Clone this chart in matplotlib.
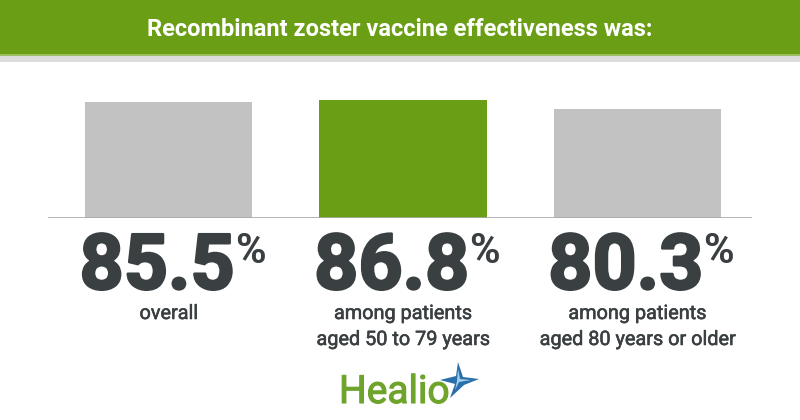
import matplotlib.pyplot as plt
import matplotlib.patheffects as pe
from matplotlib.patches import Rectangle, Polygon

# 数据
labels_num = ['85.5', '86.8', '80.3']
values = [85.5, 86.8, 80.3]
captions = [['overall'],
            ['among patients', 'aged 50 to 79 years'],
            ['among patients', 'aged 80 years or older']]
bar_colors = ['#c2c2c2', '#6a9f15', '#c2c2c2']
title = 'Recombinant zoster vaccine effectiveness was:'

green = '#6a9f15'
dark = '#3a3f41'

plt.rcParams['font.family'] = ['Roboto', 'DejaVu Sans']

W, H = 800, 420
fig = plt.figure(figsize=(W / 100, H / 100), dpi=100)
fig.patch.set_facecolor('white')

# 背景层 (像素坐标)
bg = fig.add_axes([0, 0, 1, 1])
bg.set_xlim(0, W)
bg.set_ylim(H, 0)
bg.axis('off')
bg.add_patch(Rectangle((0, 0), W, 54, color=green, lw=0))
bg.add_patch(Rectangle((0, 54), W, 2, color='#9cc060', lw=0))
bg.add_patch(Rectangle((0, 56), W, 6, color='#dcdcdc', lw=0))
bg.text(W / 2, 29, title, color='white', fontsize=17, fontweight='bold',
        ha='center', va='center')

# Healio logo
bg.text(339, 403, 'Healio', color='#6fa42c', fontsize=28, ha='left', va='baseline',
        path_effects=[pe.withStroke(linewidth=0.8, foreground='#6fa42c')])
star_out = [(458, 362), (463, 377), (479, 379), (464, 385), (450, 398), (455, 384), (440, 380), (456, 376)]
bg.add_patch(Polygon(star_out, closed=True, color='#2a6fa8', lw=0))
bg.add_patch(Polygon([(458, 369), (460, 379), (471, 380), (459, 382), (455, 390), (457, 381)],
                     closed=True, color='#9fd0ee', lw=0))

# 柱状图
ax = fig.add_axes([48 / W, (H - 218) / H, 704 / W, 135.7 / H])
x = range(len(values))
ax.bar(x, values, width=0.714, color=bar_colors, zorder=2)
ax.set_xlim(-0.515, 2.489)
ax.set_ylim(0, 100)
ax.axis('off')
ax.axhline(0, color='#a8a8a8', lw=1.2, zorder=3)

tr = ax.get_xaxis_transform()
thick = [pe.withStroke(linewidth=1.8, foreground=dark)]
for i, (num, cap) in enumerate(zip(labels_num, captions)):
    ax.annotate(num, xy=(i, 0), xycoords=tr, xytext=(66, -71),
                textcoords='offset pixels', ha='right', va='baseline',
                fontsize=55.5, fontweight='bold', color=dark, path_effects=thick)
    ax.annotate('%', xy=(i, 0), xycoords=tr, xytext=(66, -45),
                textcoords='offset pixels', ha='left', va='baseline',
                fontsize=30, fontweight='bold', color=dark)
    for j, line in enumerate(cap):
        ax.annotate(line, xy=(i, 0), xycoords=tr, xytext=(0, -101 - 26 * j),
                    textcoords='offset pixels', ha='center', va='baseline',
                    fontsize=14.3, color=dark,
                    path_effects=[pe.withStroke(linewidth=0.4, foreground=dark)])

fig.savefig('out.png', dpi=100, facecolor='white')
